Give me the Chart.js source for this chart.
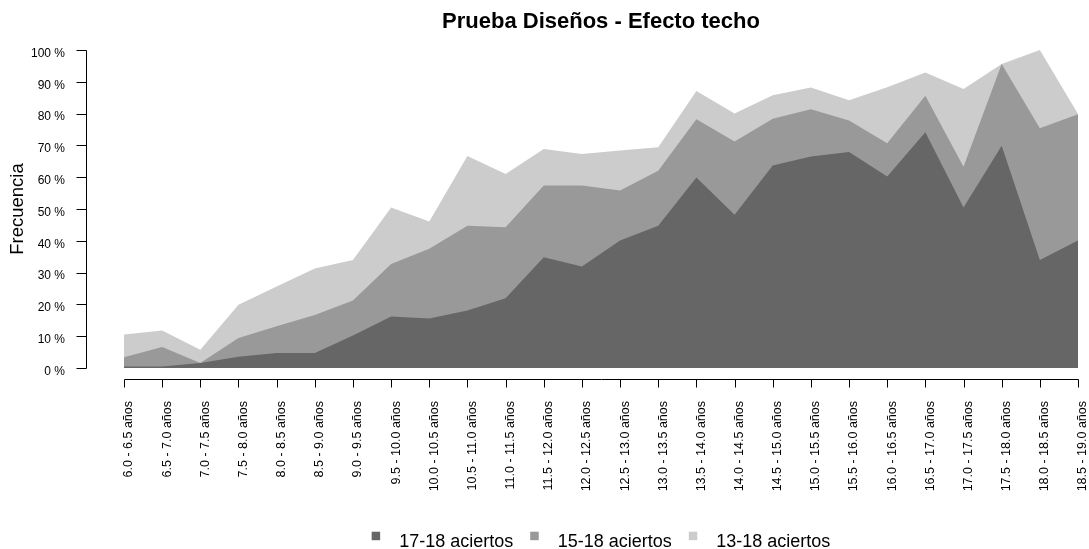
<!DOCTYPE html>
<html>
<head>
<meta charset="utf-8">
<title>Prueba Diseños - Efecto techo</title>
<script src="https://cdn.jsdelivr.net/npm/chart.js@4.4.1/dist/chart.umd.min.js"></script>
<style>
  html, body { margin: 0; padding: 0; background: #ffffff; }
  canvas { display: block; }
</style>
</head>
<body>
<canvas id="chart" width="1089" height="549"></canvas>
<script>
// Age bands (x axis categories)
const categories = [
  '6.0 - 6.5 años', '6.5 - 7.0 años', '7.0 - 7.5 años', '7.5 - 8.0 años',
  '8.0 - 8.5 años', '8.5 - 9.0 años', '9.0 - 9.5 años', '9.5 - 10.0 años',
  '10.0 - 10.5 años', '10.5 - 11.0 años', '11.0 - 11.5 años', '11.5 - 12.0 años',
  '12.0 - 12.5 años', '12.5 - 13.0 años', '13.0 - 13.5 años', '13.5 - 14.0 años',
  '14.0 - 14.5 años', '14.5 - 15.0 años', '15.0 - 15.5 años', '15.5 - 16.0 años',
  '16.0 - 16.5 años', '16.5 - 17.0 años', '17.0 - 17.5 años', '17.5 - 18.0 años',
  '18.0 - 18.5 años', '18.5 - 19.0 años'
];

// Cumulative share (%) of children reaching each score band
const aciertos17a18 = [0.5, 0.5, 1.6, 3.5, 4.7, 4.7, 10.2, 16.2, 15.6, 18.1, 21.9, 34.8, 31.9,
                       40.1, 44.7, 59.9, 48.2, 63.7, 66.5, 67.9, 60.2, 74.1, 50.5, 69.9, 34.0, 40.1];
const aciertos15a18 = [3.4, 6.6, 1.6, 9.4, 13.1, 16.7, 21.2, 32.7, 37.5, 44.7, 44.3, 57.4, 57.4,
                       55.8, 62.0, 78.2, 71.2, 78.4, 81.4, 77.8, 70.7, 85.6, 63.3, 95.6, 75.4, 79.8];
const aciertos13a18 = [10.5, 11.8, 5.7, 19.9, 25.6, 31.3, 34.0, 50.5, 46.1, 66.7, 61.0, 68.9, 67.3,
                       68.4, 69.4, 87.1, 80.0, 85.8, 88.2, 84.2, 88.3, 92.9, 87.7, 95.6, 100.0, 79.9];

const seriesNames = ['17-18 aciertos', '15-18 aciertos', '13-18 aciertos'];
const seriesColors = ['#666666', '#999999', '#cccccc'];

// Y axis range and tick step (percent)
const yMin = 0;
const yMax = 100;
const yStep = 10;

const chartTitle = 'Prueba Diseños - Efecto techo';
const yAxisTitle = 'Frecuencia';

const FONT = '"Liberation Sans", Arial, Helvetica, sans-serif';

// Keep the plot area fixed: no extra room reserved for overhanging labels
function noOverhang(scale) {
  scale.paddingLeft = 0;
  scale.paddingRight = 0;
  scale.paddingTop = 0;
  scale.paddingBottom = 0;
}

// Draws the detached R-style axes, the title and the legend row
const framePlugin = {
  id: 'frame',
  afterDraw(chart) {
    const { ctx, chartArea, scales } = chart;
    const xs = scales.x, ys = scales.y;
    ctx.save();
    ctx.strokeStyle = '#000000';
    ctx.lineWidth = 1;

    // vertical axis, set off to the left of the plot area
    const ax = Math.round(chartArea.left - 38) + 0.5;
    const yTop = Math.round(ys.getPixelForValue(yMax)) + 0.5;
    const yBot = Math.round(ys.getPixelForValue(yMin)) + 0.5;
    ctx.beginPath();
    ctx.moveTo(ax, yBot);
    ctx.lineTo(ax, yTop);
    ys.ticks.forEach(t => {
      const py = Math.round(ys.getPixelForValue(t.value)) + 0.5;
      ctx.moveTo(ax - 10, py);
      ctx.lineTo(ax, py);
    });
    ctx.stroke();

    // horizontal axis, set off below the plot area
    const ay = Math.round(chartArea.bottom + 11) + 0.5;
    const xFirst = Math.round(xs.getPixelForTick(0)) + 0.5;
    const xLast = Math.round(xs.getPixelForTick(xs.ticks.length - 1)) + 0.5;
    ctx.beginPath();
    ctx.moveTo(xFirst, ay);
    ctx.lineTo(xLast, ay);
    xs.ticks.forEach((t, i) => {
      const px = Math.round(xs.getPixelForTick(i)) + 0.5;
      ctx.moveTo(px, ay);
      ctx.lineTo(px, ay + 8);
    });
    ctx.stroke();

    const cx = (chartArea.left + chartArea.right) / 2;

    // title
    ctx.fillStyle = '#000000';
    ctx.font = 'bold 22px ' + FONT;
    ctx.textAlign = 'center';
    ctx.textBaseline = 'alphabetic';
    ctx.fillText(chartTitle, cx, 28);

    // legend row
    ctx.font = '18px ' + FONT;
    ctx.textAlign = 'left';
    const box = 8.5, boxGap = 19, itemGap = 17;
    const items = chart.data.datasets.map(ds => ({
      label: ds.label, color: ds.backgroundColor, w: ctx.measureText(ds.label).width
    }));
    let total = 0;
    items.forEach((it, i) => { total += box + boxGap + it.w + (i < items.length - 1 ? itemGap : 0); });
    let lx = cx - total / 2;
    const baseY = 546.5;
    items.forEach(it => {
      ctx.fillStyle = it.color;
      ctx.fillRect(lx, 531.7, box, box);
      ctx.fillStyle = '#000000';
      ctx.fillText(it.label, lx + box + boxGap, baseY);
      lx += box + boxGap + it.w + itemGap;
    });
    ctx.restore();
  }
};

const datasets = [aciertos17a18, aciertos15a18, aciertos13a18].map((values, i) => ({
  label: seriesNames[i],
  data: values,
  backgroundColor: seriesColors[i],
  borderColor: seriesColors[i],
  borderWidth: 0,
  pointRadius: 0,
  pointHoverRadius: 0,
  tension: 0,
  fill: 'origin'
}));

new Chart(document.getElementById('chart'), {
  type: 'line',
  data: { labels: categories, datasets },
  options: {
    responsive: false,
    devicePixelRatio: 1,
    animation: false,
    events: [],
    layout: { padding: { left: 0, right: 11, top: 50, bottom: 0 } },
    plugins: {
      legend: { display: false },
      title: { display: false },
      tooltip: { enabled: false }
    },
    scales: {
      x: {
        type: 'category',
        offset: false,
        grid: { display: false, drawTicks: false },
        border: { display: false },
        ticks: {
          autoSkip: false,
          maxRotation: 90,
          minRotation: 90,
          padding: 33,
          labelOffset: 5,
          color: '#000000',
          font: { family: FONT, size: 12.5 }
        },
        afterFit(scale) { scale.height = 181; noOverhang(scale); }
      },
      y: {
        min: yMin,
        max: yMax,
        grid: { display: false, drawTicks: false },
        border: { display: false },
        ticks: {
          stepSize: yStep,
          padding: 59,
          labelOffset: 3.5,
          color: '#000000',
          font: { family: FONT, size: 12 },
          callback: v => v + ' %'
        },
        title: {
          display: true,
          text: yAxisTitle,
          color: '#000000',
          font: { family: FONT, size: 18.5 },
          padding: { top: 7, bottom: 0 }
        },
        afterFit(scale) { scale.width = 124; noOverhang(scale); }
      }
    }
  },
  plugins: [framePlugin]
});
</script>
</body>
</html>
